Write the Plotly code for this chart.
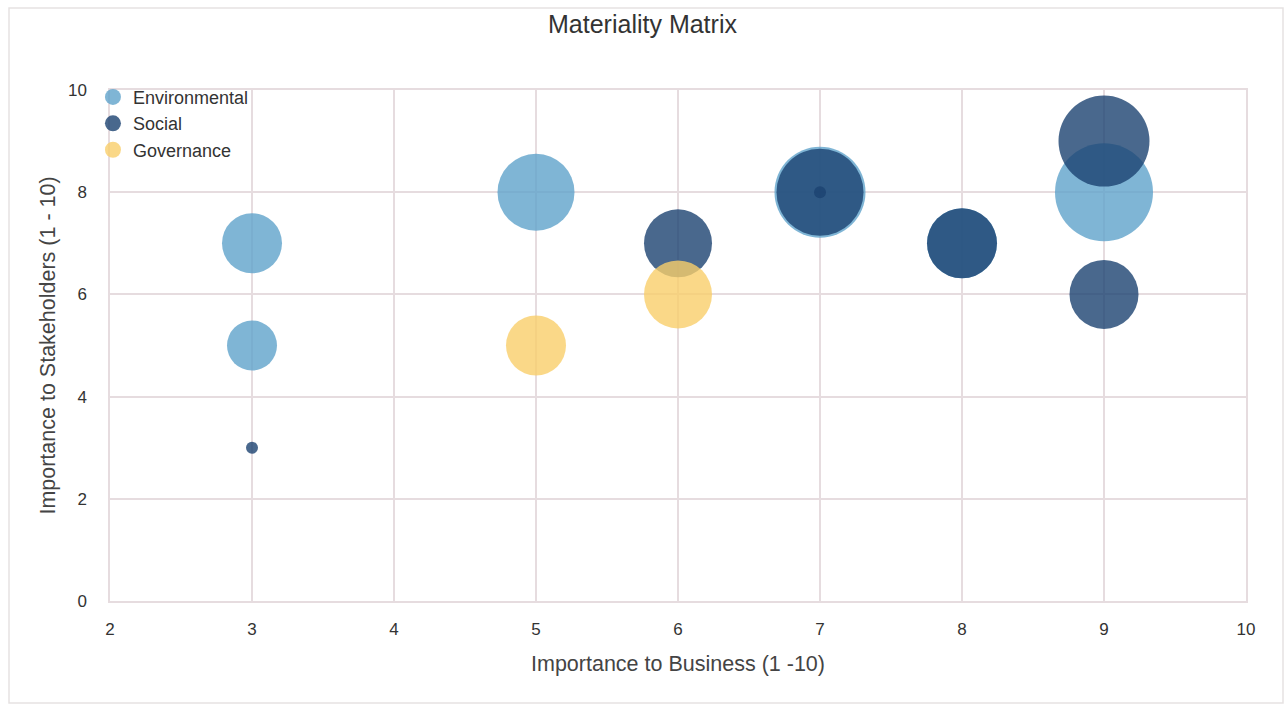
import plotly.graph_objects as go

# Environmental
env_x = [3, 3, 5, 7, 8, 9]
env_y = [7, 5, 8, 8, 7, 8]
env_s = [6, 5, 7.7, 9.1, 7, 9.8]

# Social
soc_x = [3, 6, 7, 7, 8, 9, 9]
soc_y = [3, 7, 8, 8, 7, 9, 6]
soc_s = [1.2, 6.8, 8.7, 1.2, 7, 9.1, 6.9]

# Governance
gov_x = [5, 6]
gov_y = [5, 6]
gov_s = [6, 6.8]

x_ticks = [2, 3, 4, 5, 6, 7, 8, 9, 10]
y_ticks = [0, 2, 4, 6, 8, 10]

series = [
    ("Environmental", env_x, env_y, env_s, "#5FA3CA"),
    ("Social", soc_x, soc_y, soc_s, "#1C4270"),
    ("Governance", gov_x, gov_y, gov_s, "#F9CE6A"),
]

fig = go.Figure()
for name, xs, ys, ss, col in series:
    fig.add_trace(go.Scatter(
        x=xs, y=ys, mode="markers", name=name, legendgroup=name, showlegend=False,
        marker=dict(size=ss, sizemode="diameter", sizeref=0.1, color=col,
                    opacity=0.8, line=dict(width=0)),
    ))
# legend entries (no data points, just the legend swatch)
for name, xs, ys, ss, col in series:
    fig.add_trace(go.Scatter(
        x=[None], y=[None], mode="markers", name=name, legendgroup=name, showlegend=True,
        marker=dict(size=17, color=col, opacity=0.8, line=dict(width=0)),
    ))

grid = "#e6dcdf"
font_main = "Liberation Sans, Arial, sans-serif"

fig.update_layout(
    width=1285, height=705,
    margin=dict(l=110, r=39, t=90, b=104),
    paper_bgcolor="white", plot_bgcolor="white",
    font=dict(family=font_main, color="#444", size=17),
    title=dict(text="Materiality Matrix", x=0.5, xanchor="center", y=0.965, yanchor="middle",
               xref="container", font=dict(size=25, color="#333")),
    legend=dict(x=-0.015, y=1.022, xanchor="left", yanchor="top",
                bgcolor="rgba(0,0,0,0)", itemsizing="trace", traceorder="normal",
                font=dict(size=18, color="#333"), tracegroupgap=0),
    xaxis=dict(range=[2, 10], tickvals=x_ticks, showgrid=True, gridcolor=grid, gridwidth=1.5,
               showline=True, linecolor=grid, linewidth=1.5, mirror=True, zeroline=False,
               ticks="outside", ticklen=12, tickcolor="rgba(0,0,0,0)",
               tickfont=dict(size=17, color="#333"),
               title=dict(text="Importance to Business (1 -10)", standoff=18,
                          font=dict(size=21.5, color="#444"))),
    yaxis=dict(range=[0, 10], tickvals=y_ticks, showgrid=True, gridcolor=grid, gridwidth=2,
               showline=True, linecolor=grid, linewidth=1.5, mirror=True, zeroline=False,
               ticks="outside", ticklen=18, tickcolor="rgba(0,0,0,0)",
               tickfont=dict(size=17, color="#333"),
               title=dict(text="Importance to Stakeholders (1 - 10)", standoff=6,
                          font=dict(size=21.5, color="#444"))),
    shapes=[dict(type="rect", xref="paper", yref="paper",
                 x0=(9 - 110) / 1136, x1=(1283 - 110) / 1136,
                 y0=(601 - 703) / 511, y1=(601 - 8) / 511,
                 line=dict(color="#e6e2e2", width=1.5), layer="below")],
)

fig.write_html("out.html")
